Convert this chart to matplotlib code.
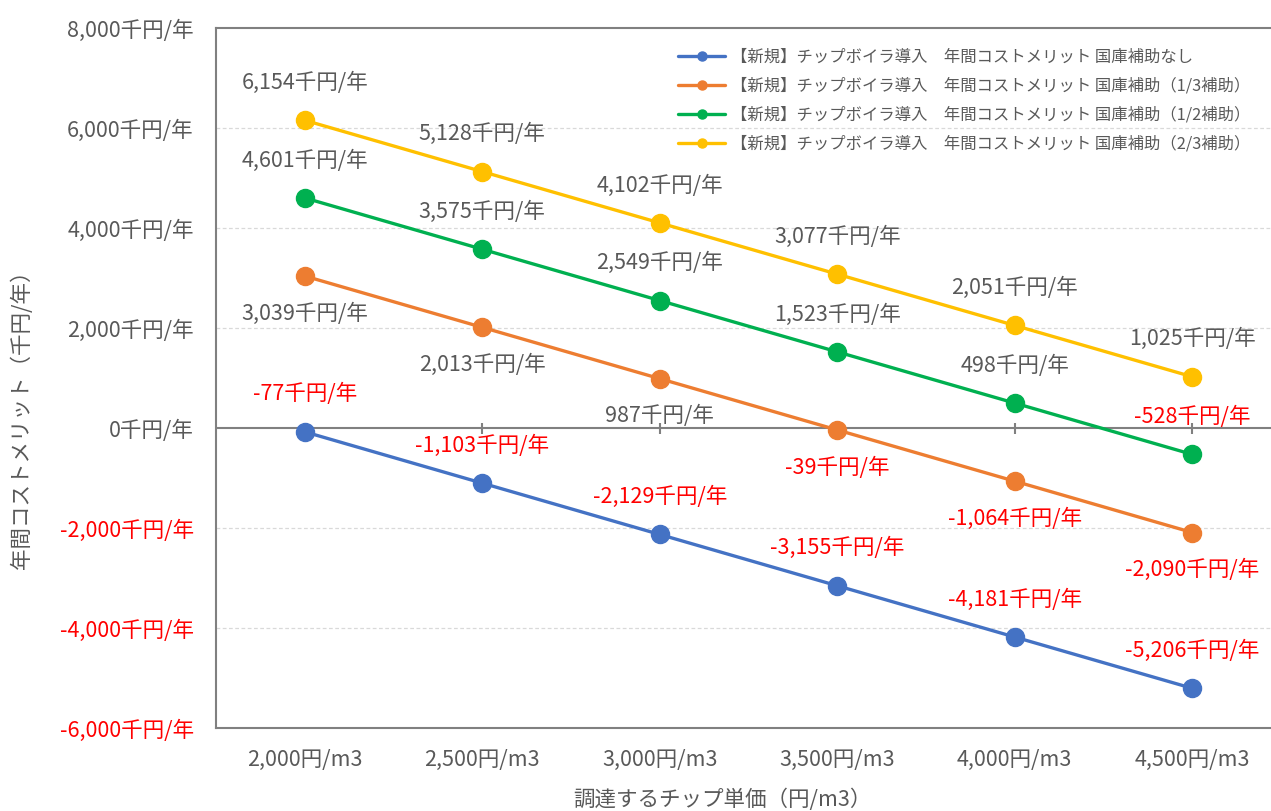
import matplotlib
matplotlib.use("Agg")
import matplotlib.pyplot as plt
from matplotlib.ticker import FuncFormatter

plt.rcParams['font.family'] = ['Noto Sans CJK JP', 'DejaVu Sans']

# Chip unit price categories
categories = ["2,000円/m3", "2,500円/m3", "3,000円/m3", "3,500円/m3", "4,000円/m3", "4,500円/m3"]

# Annual cost merit (thousand yen / year)
no_subsidy = [-77, -1103, -2129, -3155, -4181, -5206]
subsidy_1_3 = [3039, 2013, 987, -39, -1064, -2090]
subsidy_1_2 = [4601, 3575, 2549, 1523, 498, -528]
subsidy_2_3 = [6154, 5128, 4102, 3077, 2051, 1025]

series_names = [
    "【新規】チップボイラ導入　年間コストメリット 国庫補助なし",
    "【新規】チップボイラ導入　年間コストメリット 国庫補助（1/3補助）",
    "【新規】チップボイラ導入　年間コストメリット 国庫補助（1/2補助）",
    "【新規】チップボイラ導入　年間コストメリット 国庫補助（2/3補助）",
]
series_values = [no_subsidy, subsidy_1_3, subsidy_1_2, subsidy_2_3]
series_colors = ["#4472C4", "#ED7D31", "#00B050", "#FFC000"]
label_side = [1, -1, 1, 1]  # labels above (+1) or below (-1) the marker

y_ticks = [-6000, -4000, -2000, 0, 2000, 4000, 6000, 8000]

GRAY = "#595959"
RED = "#FF0000"
SPINE = "#808080"
FS = 15.5

W, H = 1271, 811
fig = plt.figure(figsize=(W / 100, H / 100), dpi=100)
left, right, top, bottom = 216, 1281, 28, 728
ax = fig.add_axes([left / W, 1 - bottom / H, (right - left) / W, (bottom - top) / H])

x = list(range(len(categories)))

for name, vals, color, side in zip(series_names, series_values, series_colors, label_side):
    ax.plot(x, vals, color=color, lw=2.4, marker="o", markersize=13,
            label=name, solid_capstyle="round", zorder=3)
    for xi, v in zip(x, vals):
        ax.annotate(f"{v:,}千円/年", (xi, v), xytext=(0, 27 * side),
                    textcoords="offset points", ha="center", va="center",
                    fontsize=FS, color=RED if v < 0 else GRAY, zorder=4)

ax.set_xlim(-0.5, len(categories) - 0.5)
ax.set_ylim(-6000, 8000)

# gridlines
for yv in y_ticks:
    if yv in (0, -6000, 8000):
        continue
    ax.axhline(yv, color="#D9D9D9", lw=0.9, ls=(0, (3, 2)), zorder=1)

# zero line with crossing tick marks
ax.axhline(0, color=SPINE, lw=1.5, zorder=2)
ax.vlines(x, -110, 110, color=SPINE, lw=1.5, zorder=2)

for side in ("left", "top", "bottom"):
    ax.spines[side].set_color(SPINE)
    ax.spines[side].set_linewidth(1.5)
ax.spines["right"].set_visible(False)

ax.set_yticks(y_ticks)
ax.yaxis.set_major_formatter(FuncFormatter(lambda v, p: f"{int(v):,}千円/年"))
ax.tick_params(axis="y", length=0, pad=16, labelsize=FS)
for lab, v in zip(ax.get_yticklabels(), y_ticks):
    lab.set_color(RED if v < 0 else GRAY)

ax.set_xticks(x)
ax.set_xticklabels(categories)
ax.tick_params(axis="x", length=0, pad=15, labelsize=FS, colors=GRAY)

fig.text(722 / W, 1 - 800 / H, "調達するチップ単価（円/m3）", ha="center", va="center",
         fontsize=FS, color=GRAY)
fig.text(22 / W, 1 - 414 / H, "年間コストメリット（千円/年）", ha="center", va="center",
         rotation=90, fontsize=FS, color=GRAY)

leg = ax.legend(loc="upper left", bbox_to_anchor=(670 / W, 1 - 41 / H),
                bbox_transform=fig.transFigure, frameon=False, fontsize=11.75,
                handlelength=2.9, handletextpad=0.35, labelspacing=0.72,
                borderpad=0, markerscale=0.5)
for t in leg.get_texts():
    t.set_color(GRAY)

fig.savefig("out.png", dpi=100)
